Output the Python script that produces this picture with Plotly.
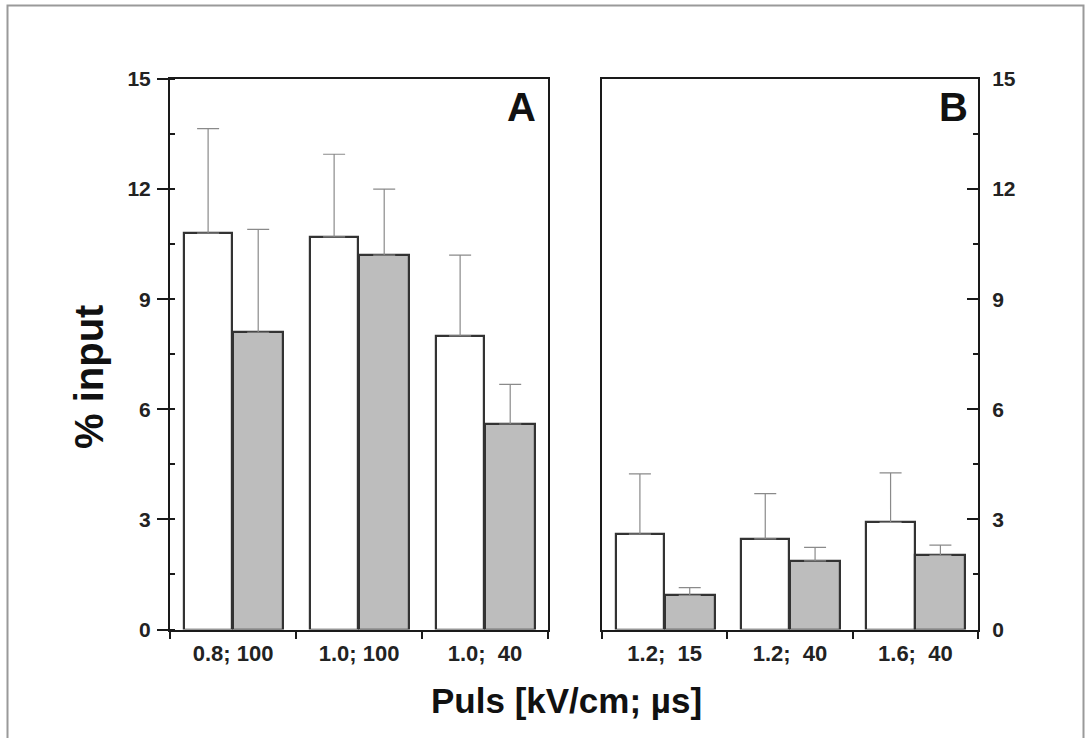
import plotly.graph_objects as go

W, H = 1085, 738

# Pulse conditions [kV/cm; µs]
cats_a = ["0.8; 100", "1.0; 100", "1.0;\u00a0\u00a040"]
cats_b = ["1.2;\u00a0\u00a015", "1.2;\u00a0\u00a040", "1.6;\u00a0\u00a040"]

# % input, open bars and grey bars, with upper standard deviations
white_a = [10.8, 10.7, 8.0]
white_a_err = [2.85, 2.25, 2.2]
grey_a = [8.1, 10.2, 5.6]
grey_a_err = [2.8, 1.8, 1.08]

white_b = [2.6, 2.47, 2.92]
white_b_err = [1.64, 1.23, 1.35]
grey_b = [0.93, 1.87, 2.02]
grey_b_err = [0.21, 0.37, 0.28]

y_ticks = [0, 3, 6, 9, 12, 15]

FONT = "Liberation Sans, Arial, sans-serif"


def px(x):
    return x / W


def py(y):
    return (H - y) / H


bar_line = dict(color="#333333", width=2.2)
err_style = dict(type="data", symmetric=False, color="#8a8a8a", thickness=1.2, width=11)

fig = go.Figure()

for cats, wv, we, gv, ge, xa, ya in [
    (cats_a, white_a, white_a_err, grey_a, grey_a_err, "x", "y"),
    (cats_b, white_b, white_b_err, grey_b, grey_b_err, "x2", "y2"),
]:
    fig.add_trace(go.Bar(
        x=cats, y=wv, xaxis=xa, yaxis=ya,
        width=0.385, offset=-0.39,
        marker=dict(color="white", line=bar_line),
        error_y=dict(array=we, arrayminus=[0] * len(we), **err_style),
        showlegend=False,
    ))
    fig.add_trace(go.Bar(
        x=cats, y=gv, xaxis=xa, yaxis=ya,
        width=0.40, offset=0.0,
        marker=dict(color="#bdbdbd", line=bar_line),
        error_y=dict(array=ge, arrayminus=[0] * len(ge), **err_style),
        showlegend=False,
    ))

tickfont_x = dict(family=FONT, size=22, color="#222", weight="bold")
tickfont_y = dict(family=FONT, size=21, color="#222", weight="bold")

common_x = dict(
    type="category", range=[-0.5, 2.5], showgrid=False, zeroline=False,
    showline=True, linecolor="#1a1a1a", linewidth=2, mirror=True,
    ticks="outside", tickson="boundaries", ticklen=7, tickwidth=2, tickcolor="#1a1a1a",
    tickfont=tickfont_x, automargin=False, ticklabelstandoff=3,
)
common_y = dict(
    range=[0, 15], tickvals=y_ticks, showgrid=False, zeroline=False,
    showline=True, linecolor="#1a1a1a", linewidth=2, mirror=True,
    ticklen=11, tickwidth=2, tickcolor="#1a1a1a", tickfont=tickfont_y,
    minor=dict(dtick=1.5, tick0=0, ticks="inside", ticklen=5, tickwidth=2, tickcolor="#1a1a1a"),
    domain=[py(629.5), py(79)], automargin=False,
)

fig.update_layout(
    width=W, height=H,
    margin=dict(l=0, r=0, t=0, b=0, autoexpand=False),
    paper_bgcolor="white", plot_bgcolor="white",
    bargap=0, barmode="overlay",
    xaxis=dict(common_x, domain=[px(170), px(548)], anchor="y"),
    xaxis2=dict(common_x, domain=[px(602), px(978)], anchor="y2"),
    yaxis=dict(common_y, anchor="x", side="left", ticks="outside", ticklabelstandoff=2),
    yaxis2=dict(common_y, anchor="x2", side="right", ticks="inside", ticklabelstandoff=8),
    font=dict(family=FONT),
)

title_font = dict(family=FONT, color="#111", weight="bold")
fig.add_annotation(text="A", x=px(521), y=py(107), xref="paper", yref="paper",
                   xanchor="center", yanchor="middle", showarrow=False,
                   font=dict(title_font, size=40))
fig.add_annotation(text="B", x=px(953), y=py(107), xref="paper", yref="paper",
                   xanchor="center", yanchor="middle", showarrow=False,
                   font=dict(title_font, size=40))
fig.add_annotation(text="% input", x=px(89), y=py(377), xref="paper", yref="paper",
                   xanchor="center", yanchor="middle", textangle=-90, showarrow=False,
                   font=dict(title_font, size=40))
fig.add_annotation(text="Puls [kV/cm; µs]", x=px(566), y=py(700), xref="paper", yref="paper",
                   xanchor="center", yanchor="middle", showarrow=False,
                   font=dict(title_font, size=35))

# outer frame around the figure
fig.add_shape(type="rect", xref="paper", yref="paper",
              x0=px(7.5), x1=px(1083.5), y0=-0.02, y1=py(5.5),
              line=dict(color="#9a9a9a", width=2), fillcolor="rgba(0,0,0,0)")

fig.write_html("out.html")
